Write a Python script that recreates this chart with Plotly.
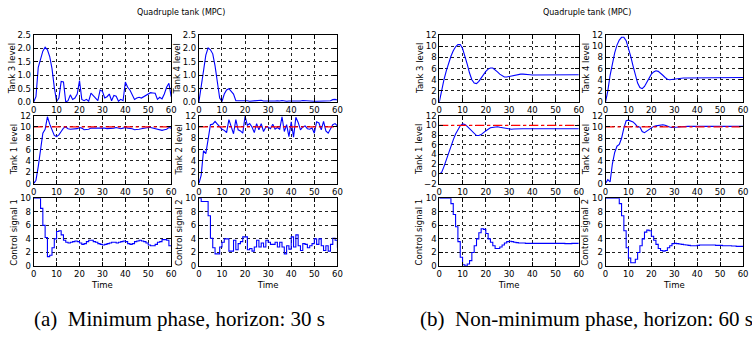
import plotly.graph_objects as go

# ---------------- data ----------------
t = list(range(61))

a_tank3 = [0.0, 0.2, 1.3, 1.65, 1.9, 2.05, 1.95, 1.7, 1.25, 0.55,
           0.02, 0.15, 0.77, 0.75, 0.0, 0.05, 0.27, 0.1, 0.15, 0.3,
           0.8, 0.1, 0.05, 0.1, 0.03, 0.33, 0.25, 0.15, 0.05, 0.45,
           0.4, 0.15, 0.2, 0.3, 0.05, 0.25, 0.22, 0.03, 0.1, 0.05,
           0.75, 0.55, 0.45, 0.25, 0.1, 0.15, 0.18, 0.15, 0.2, 0.25,
           0.32, 0.35, 0.34, 0.33, 0.1, 0.18, 0.12, 0.3, 0.55, 0.7,
           0.2]
a_tank4 = [0.0, 0.6, 1.2, 1.75, 2.02, 1.95, 1.8, 1.35, 0.75, 0.15,
           0.02, 0.3, 0.45, 0.5, 0.4, 0.3, 0.05, 0.05, 0.05, 0.05,
           0.07, 0.05, 0.03, 0.04, 0.05, 0.06, 0.08, 0.07, 0.04, 0.03,
           0.04, 0.04, 0.03, 0.04, 0.05, 0.04, 0.06, 0.04, 0.03, 0.04,
           0.05, 0.04, 0.04, 0.03, 0.04, 0.06, 0.05, 0.06, 0.04, 0.02,
           0.03, 0.03, 0.03, 0.03, 0.03, 0.04, 0.04, 0.05, 0.09, 0.1,
           0.08]
a_tank1 = [0.0, 0.6, 3.0, 6.5, 8.9, 9.6, 11.8, 10.5, 9.3, 8.5,
           8.3, 8.6, 9.2, 9.8, 10.0, 9.7, 9.6, 9.6, 9.6, 9.7,
           9.9, 9.8, 9.5, 9.5, 9.6, 9.8, 9.8, 9.8, 9.8, 9.8,
           9.9, 9.8, 9.7, 9.7, 9.7, 9.8, 9.9, 9.8, 9.7, 9.8,
           9.9, 9.8, 9.8, 9.7, 9.5, 9.5, 9.6, 9.7, 9.8, 9.8,
           9.9, 9.9, 9.8, 9.8, 9.6, 9.5, 9.4, 9.5, 9.6, 9.9,
           9.8]
a_tank2 = [0.0, 1.5, 5.8, 5.3, 7.8, 10.4, 10.5, 11.0, 10.5, 10.0,
           9.6, 9.4, 9.0, 11.3, 10.2, 8.8, 11.3, 9.5, 9.3, 8.9,
           11.9, 10.3, 10.6, 10.0, 9.0, 10.6, 9.5, 10.6, 9.2, 10.0,
           10.0, 9.7, 10.5, 9.6, 9.9, 9.6, 11.8, 9.2, 10.4, 8.3,
           10.9, 8.2, 11.7, 10.8, 9.5, 10.0, 10.2, 9.7, 9.6, 9.8,
           8.9, 10.9, 10.7, 9.5, 11.0, 9.3, 8.9, 9.8, 10.4, 10.6,
           10.2]
a_u1 = [10, 10, 10, 8.5, 6.0, 4.2, 1.4, 1.6, 2.7, 4.0,
        5.1, 5.2, 4.6, 3.8, 3.5, 3.4, 3.5, 3.6, 3.7, 3.6,
        3.4, 3.2, 3.3, 3.6, 3.8, 3.8, 3.6, 3.5, 3.3, 3.2,
        3.1, 3.2, 3.3, 3.4, 3.5, 3.5, 3.4, 3.5, 3.6, 3.7,
        3.6, 3.3, 3.2, 3.3, 3.6, 3.7, 3.8, 3.7, 3.6, 3.4,
        3.1, 3.0, 3.0, 3.2, 3.5, 3.6, 3.9, 3.9, 3.8, 3.0,
        3.0]
a_u2 = [10, 9.5, 9.5, 9.5, 7.4, 4.1, 2.7, 1.8, 1.8, 2.8,
        3.5, 4.0, 4.0, 2.2, 2.2, 3.8, 2.4, 3.3, 3.6, 4.3,
        4.3, 2.4, 2.6, 2.2, 2.8, 3.8, 2.8, 3.4, 2.8, 3.8,
        3.5, 3.2, 3.2, 3.5, 2.8, 3.5, 2.8, 1.8, 3.0, 2.5,
        4.3, 2.8, 4.6, 3.0, 2.3, 3.3, 3.2, 2.7, 3.0, 3.3,
        4.0, 3.2, 4.0, 3.0, 2.3, 3.0, 2.2, 3.2, 4.1, 3.8,
        2.7]

b_tank3 = [0.0, 2.2, 4.0, 5.6, 7.0, 8.2, 9.2, 9.9, 10.3, 10.3,
           9.6, 8.3, 6.8, 5.2, 4.0, 3.4, 3.3, 3.7, 4.3, 5.0,
           5.5, 5.9, 6.1, 6.1, 5.8, 5.4, 5.0, 4.7, 4.5, 4.5,
           4.6, 4.7, 4.8, 4.9, 4.95, 5.0, 5.0, 5.0, 4.95, 4.9,
           4.85, 4.85, 4.8, 4.8, 4.8, 4.8, 4.8, 4.85, 4.85, 4.85,
           4.85, 4.85, 4.85, 4.85, 4.85, 4.85, 4.85, 4.85, 4.9, 4.9,
           4.9]
b_tank4 = [0.0, 2.0, 4.8, 7.0, 8.8, 10.2, 11.1, 11.6, 11.6, 11.0,
           9.8, 8.2, 6.5, 4.8, 3.4, 2.6, 2.4, 2.8, 3.6, 4.4,
           5.0, 5.4, 5.6, 5.5, 5.2, 4.8, 4.4, 4.1, 4.0, 4.05,
           4.1, 4.2, 4.3, 4.3, 4.3, 4.3, 4.3, 4.3, 4.3, 4.35,
           4.35, 4.35, 4.35, 4.4, 4.4, 4.4, 4.4, 4.4, 4.4, 4.4,
           4.4, 4.4, 4.35, 4.35, 4.3, 4.3, 4.3, 4.35, 4.4, 4.4,
           4.4]
b_tank1 = [0.0, 0.3, 1.5, 3.0, 4.4, 5.8, 7.0, 8.2, 9.2, 9.9,
           10.3, 10.2, 9.8, 9.3, 8.7, 8.2, 7.9, 7.9, 8.1, 8.5,
           8.9, 9.2, 9.5, 9.6, 9.7, 9.7, 9.6, 9.5, 9.35, 9.25,
           9.2, 9.2, 9.25, 9.3, 9.3, 9.3, 9.3, 9.3, 9.3, 9.3,
           9.3, 9.3, 9.3, 9.3, 9.3, 9.3, 9.3, 9.3, 9.3, 9.3,
           9.3, 9.3, 9.3, 9.3, 9.3, 9.3, 9.3, 9.3, 9.3, 9.3,
           9.3]
b_tank2 = [0.0, 0.7, 0.3, 3.5, 5.5, 6.6, 6.9, 8.0, 9.8, 11.1,
           11.2, 11.1, 10.9, 10.5, 10.0, 10.0, 9.2, 9.0, 9.3, 9.6,
           9.9, 10.1, 10.2, 10.3, 10.4, 10.4, 10.3, 10.1, 10.0, 9.9,
           9.9, 9.95, 10.0, 10.05, 10.1, 10.1, 10.1, 10.1, 10.1, 10.1,
           10.1, 10.1, 10.1, 10.1, 10.1, 10.1, 10.1, 10.05, 10.05, 10.05,
           10.05, 10.05, 10.05, 10.05, 10.05, 10.1, 10.1, 10.1, 10.1, 10.1,
           10.1]
b_u1 = [10, 10, 10, 10, 10, 9.2, 7.6, 5.8, 3.6, 1.3,
        0.2, 0.0, 0.3, 0.8, 2.0, 3.0, 4.0, 4.9, 5.5, 5.4,
        4.8, 4.0, 3.5, 3.0, 2.6, 2.6, 2.8, 3.1, 3.4, 3.6,
        3.65, 3.6, 3.5, 3.45, 3.4, 3.4, 3.4, 3.35, 3.35, 3.35,
        3.35, 3.35, 3.35, 3.35, 3.35, 3.35, 3.35, 3.35, 3.35, 3.35,
        3.35, 3.35, 3.35, 3.35, 3.3, 3.3, 3.3, 3.35, 3.35, 3.35,
        3.35]
b_u2 = [10, 10, 10, 10, 10, 10, 9.2, 7.4, 5.2, 2.7,
        1.2, 0.5, 0.5, 1.0, 2.0, 3.0, 4.0, 5.0, 5.3, 5.2,
        4.4, 3.8, 3.2, 2.6, 2.3, 2.2, 2.3, 2.7, 3.0, 3.3,
        3.35, 3.3, 3.25, 3.2, 3.15, 3.1, 3.05, 3.0, 3.0, 3.0,
        3.05, 3.1, 3.1, 3.1, 3.1, 3.1, 3.1, 3.1, 3.05, 3.05,
        3.05, 3.0, 3.0, 3.0, 3.0, 2.95, 2.95, 2.9, 2.9, 2.9,
        2.9]

reference_level = 10
x_ticks = [0, 10, 20, 30, 40, 50, 60]
y_titles = ["Tank 3 level", "Tank 4 level", "Tank 1 level",
            "Tank 2 level", "Control signal 1", "Control signal 2"]
x_title = "Time"
fig_title = "Quadruple tank (MPC)"
caption_a = "(a)\u00a0\u00a0Minimum phase, horizon: 30 s"
caption_b = "(b)\u00a0\u00a0Non-minimum phase, horizon: 60 s"

# ---------------- layout geometry ----------------
W, H = 752, 340
cols = [(31, 170), (198, 338), (441, 582), (609, 748)]
rows = [(31, 100), (114, 184), (199, 269)]

def xd(c):
    return [c[0] / W, c[1] / W]

def yd(r):
    return [1 - r[1] / H, 1 - r[0] / H]

panels = [
    # (col, row, data, ytitle, yrange, dtick, fmt, reference, step, title offset px)
    (0, 0, a_tank3, y_titles[0], [0, 2.5], 0.5, ".1f", False, False, 22),
    (1, 0, a_tank4, y_titles[1], [0, 2.5], 0.5, ".1f", False, False, 22),
    (0, 1, a_tank1, y_titles[2], [0, 12], 2, "", True, False, 20),
    (1, 1, a_tank2, y_titles[3], [0, 12], 2, "", True, False, 20),
    (0, 2, a_u1, y_titles[4], [0, 10], 2, "", False, True, 20),
    (1, 2, a_u2, y_titles[5], [0, 10], 2, "", False, True, 20),
    (2, 0, b_tank3, y_titles[0], [0, 12], 2, "", False, False, 20),
    (3, 0, b_tank4, y_titles[1], [0, 12], 2, "", False, False, 20),
    (2, 1, b_tank1, y_titles[2], [-2, 12], 2, "", True, False, 21),
    (3, 1, b_tank2, y_titles[3], [0, 12], 2, "", True, False, 20),
    (2, 2, b_u1, y_titles[4], [0, 10], 2, "", False, True, 20),
    (3, 2, b_u2, y_titles[5], [0, 10], 2, "", False, True, 20),
]

FONT = "DejaVu Sans"
FS = 8.5

fig = go.Figure()
layout = dict(width=W, height=H, margin=dict(l=0, r=0, t=0, b=0),
              paper_bgcolor="white", plot_bgcolor="white", showlegend=False)
annotations = []

for i, (c, r, data, ytitle, yr, dt, fmt, ref, step, off) in enumerate(panels, start=1):
    xa = "x" if i == 1 else f"x{i}"
    ya = "y" if i == 1 else f"y{i}"
    fig.add_trace(go.Scatter(x=t, y=data, mode="lines", xaxis=xa, yaxis=ya,
                             line=dict(color="#0000ff", width=1.1,
                                       shape="hv" if step else "linear")))
    if ref:
        fig.add_trace(go.Scatter(x=[t[0], t[-1]], y=[reference_level, reference_level],
                                 mode="lines", xaxis=xa, yaxis=ya,
                                 line=dict(color="red", width=1.3, dash="dashdot")))
    common = dict(showline=True, linecolor="black", linewidth=1, mirror="allticks",
                  ticks="inside", ticklen=4, tickcolor="black", tickwidth=1,
                  showgrid=True, gridcolor="#222", griddash="dot", gridwidth=0.8,
                  zeroline=False, tickfont=dict(family=FONT, size=FS, color="black"))
    xkey = "xaxis" if i == 1 else f"xaxis{i}"
    ykey = "yaxis" if i == 1 else f"yaxis{i}"
    xax = dict(common, domain=xd(cols[c]), range=[0, 60], tickvals=x_ticks,
               anchor=ya)
    if r == 2:
        xax["title"] = dict(text=x_title, font=dict(family=FONT, size=FS, color="black"),
                            standoff=3)
    yax = dict(common, domain=yd(rows[r]), range=yr, dtick=dt, tick0=0, anchor=xa)
    if fmt:
        yax["tickformat"] = fmt
    layout[xkey] = xax
    layout[ykey] = yax
    annotations.append(dict(text=ytitle, textangle=-90, showarrow=False,
                            xref=f"{xa} domain", yref=f"{ya} domain",
                            x=0, y=0.5, xshift=-off, xanchor="center", yanchor="middle",
                            font=dict(family=FONT, size=FS, color="black")))

annotations += [
    dict(text=fig_title, x=180 / W, y=1 - 8 / H, xref="paper", yref="paper",
         showarrow=False, xanchor="center", yanchor="middle",
         font=dict(family=FONT, size=8, color="black")),
    dict(text=fig_title, x=590 / W, y=1 - 8 / H, xref="paper", yref="paper",
         showarrow=False, xanchor="center", yanchor="middle",
         font=dict(family=FONT, size=8, color="black")),
    dict(text=caption_a, x=29 / W, y=1 - 323 / H, xref="paper", yref="paper",
         showarrow=False, xanchor="left", yanchor="middle",
         font=dict(family="Liberation Serif", size=21, color="black")),
    dict(text=caption_b, x=419 / W, y=1 - 323 / H, xref="paper", yref="paper",
         showarrow=False, xanchor="left", yanchor="middle",
         font=dict(family="Liberation Serif", size=21, color="black")),
]
layout["annotations"] = annotations

fig.update_layout(**layout)
fig.write_html("out.html")
